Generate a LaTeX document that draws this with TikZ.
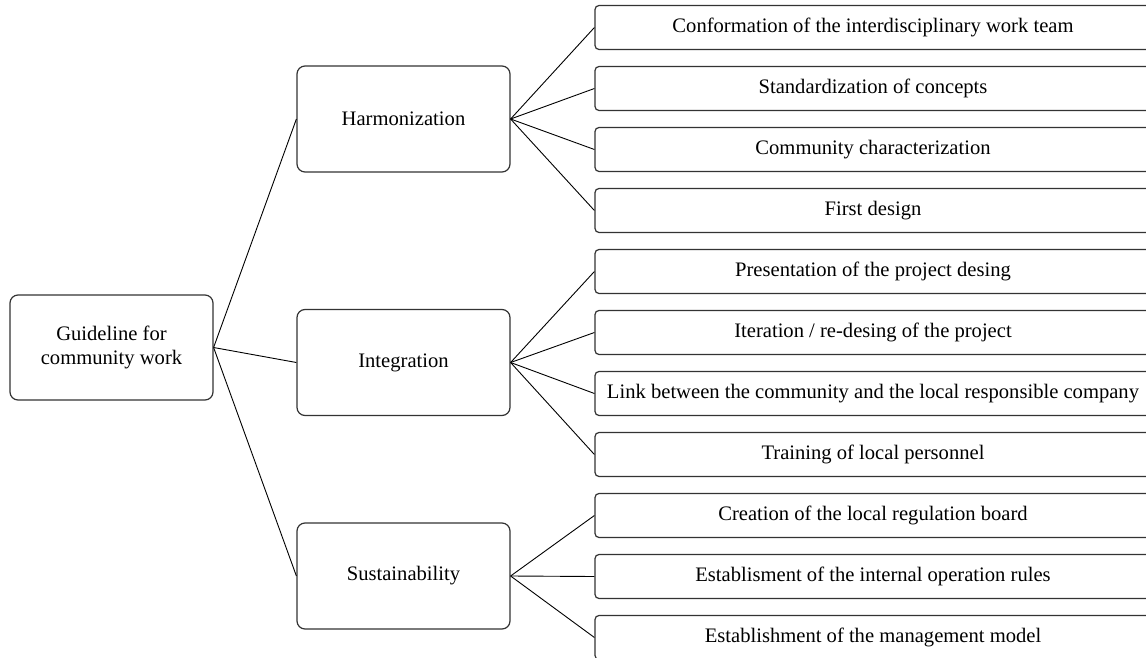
\documentclass[tikz,border=0pt]{standalone}
\usepackage{fontspec}
\setmainfont{Liberation Serif}
\usetikzlibrary{positioning}

\tikzset{
  mainbox/.style={draw=black!80,line width=1.2pt,rounded corners=8pt,align=center,
    minimum width=213pt,minimum height=106pt,inner sep=0pt},
  itembox/.style={draw=black!80,line width=1.2pt,rounded corners=4pt,
    minimum width=556pt,minimum height=44pt,inner sep=0pt},
  branch/.style={line width=0.9pt,black}
}

\begin{document}
\begin{tikzpicture}[x=1pt,y=-1pt,font=\fontsize{20.6}{24}\selectfont]
  % page frame
  \useasboundingbox (0,0) rectangle (1146,658);
  \clip (0,0) rectangle (1146,658);

  % Root box
  \node[mainbox,minimum width=203pt,minimum height=105pt] (guide) at (111.5,347.5)
    {Guideline for\\community work};

  % Stage boxes
  \node[mainbox] (harm) at (403.5,119) {Harmonization};
  \node[mainbox] (integ) at (403.5,362.5) {Integration};
  \node[mainbox] (sust) at (403.5,576) {Sustainability};

  % Activity boxes (Harmonization)
  \node[itembox] (conf) at (873,27.5) {Conformation of the interdisciplinary work team};
  \node[itembox] (stand) at (873,88.5) {Standardization of concepts};
  \node[itembox] (charact) at (873,149.5) {Community characterization};
  \node[itembox] (design) at (873,210.5) {First design};

  % Activity boxes (Integration)
  \node[itembox] (present) at (873,271.5) {Presentation of the project desing};
  \node[itembox] (iter) at (873,332.5) {Iteration / re-desing of the project};
  \node[itembox] (link) at (873,393.5) {Link between the community and the local responsible company};
  \node[itembox] (train) at (873,454.5) {Training of local personnel};

  % Activity boxes (Sustainability)
  \node[itembox] (board) at (873,515.5) {Creation of the local regulation board};
  \node[itembox] (rules) at (873,576.5) {Establisment of the internal operation rules};
  \node[itembox] (model) at (873,637.5) {Establishment of the management model};

  % Connectors from root
  \draw[branch] (guide.east) -- (harm.west);
  \draw[branch] (guide.east) -- (integ.west);
  \draw[branch] (guide.east) -- (sust.west);

  % Connectors to activities
  \draw[branch] (harm.east) -- (conf.west);
  \draw[branch] (harm.east) -- (stand.west);
  \draw[branch] (harm.east) -- (charact.west);
  \draw[branch] (harm.east) -- (design.west);

  \draw[branch] (integ.east) -- (present.west);
  \draw[branch] (integ.east) -- (iter.west);
  \draw[branch] (integ.east) -- (link.west);
  \draw[branch] (integ.east) -- (train.west);

  \draw[branch] (sust.east) -- (board.west);
  \draw[branch] (sust.east) -- (rules.west);
  \draw[branch] (sust.east) -- (model.west);
\end{tikzpicture}
\end{document}
